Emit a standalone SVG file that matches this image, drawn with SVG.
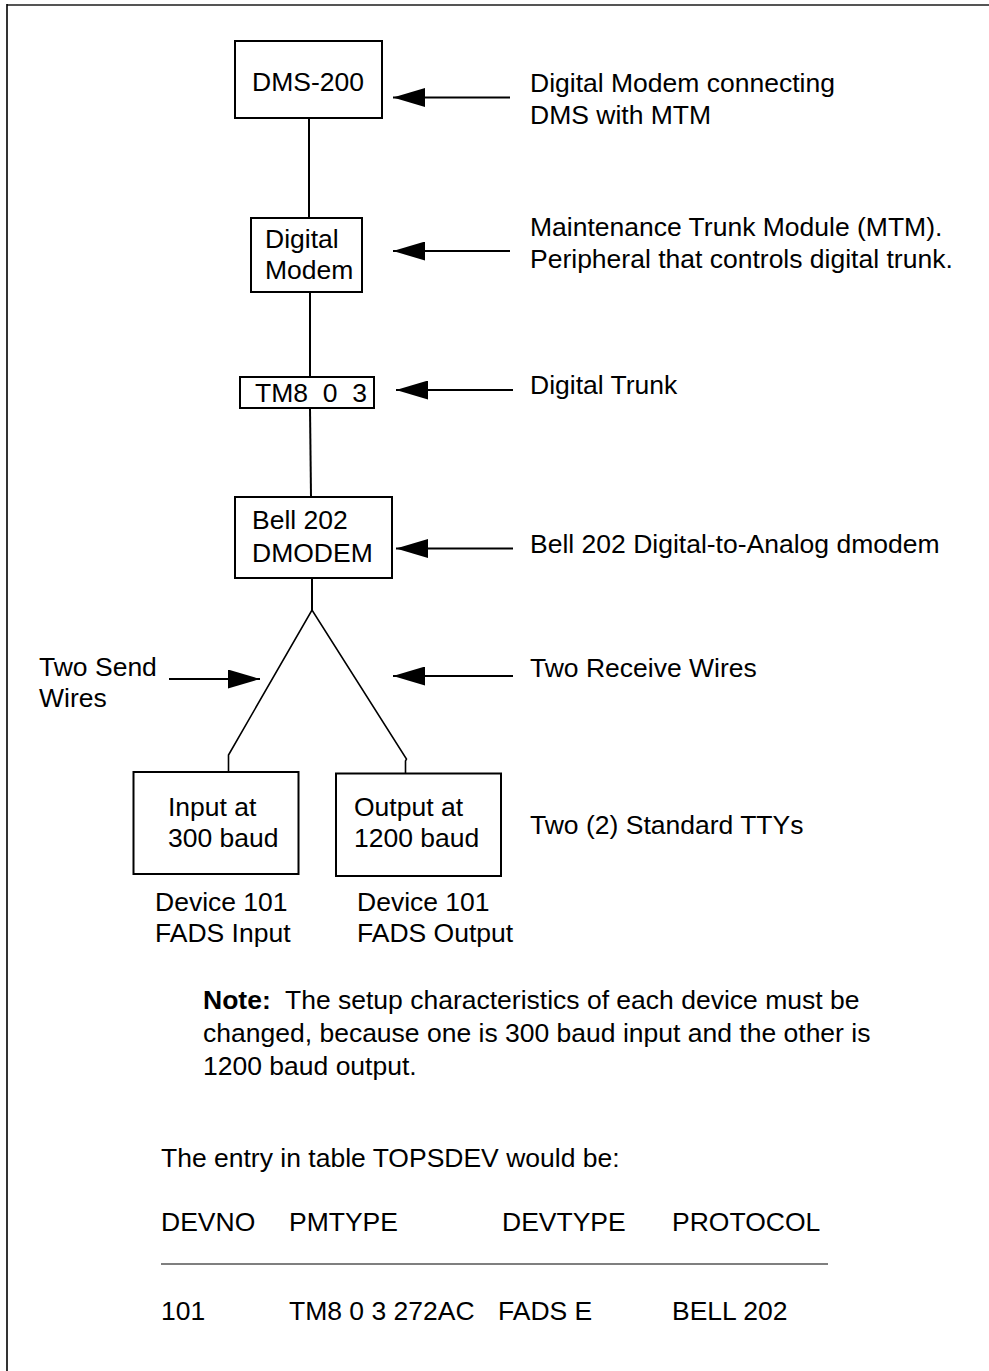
<svg xmlns="http://www.w3.org/2000/svg" width="989" height="1371" viewBox="0 0 989 1371">
<style>
text{font-family:"Liberation Sans",Arial,Helvetica,sans-serif;font-size:26.5px;fill:#000;white-space:pre}
.box{fill:#fff;stroke:#000;stroke-width:2}
.wire{fill:none;stroke:#000;stroke-width:2}
.thin{fill:none;stroke:#000;stroke-width:1.6}
.arr{fill:none;stroke:#000;stroke-width:2;marker-end:url(#ah)}
</style>
<defs>
<marker id="ah" viewBox="0 0 32 19" refX="32" refY="9.5" markerWidth="32" markerHeight="19" markerUnits="userSpaceOnUse" orient="auto">
<path d="M0,0 L32,9.5 L0,19 z" fill="#000"/>
</marker>
</defs>
<rect width="989" height="1371" fill="#fff"/>
<g id="frame">
<line x1="7" y1="5" x2="989" y2="5" stroke="#555" stroke-width="2"/>
<line x1="7" y1="4" x2="7" y2="1371" stroke="#000" stroke-width="1.6"/>
</g>
<g id="connectors">
<line class="wire" x1="309" y1="118" x2="309" y2="218"/>
<line class="wire" x1="310" y1="292" x2="310" y2="377"/>
<line class="wire" x1="310" y1="408" x2="311" y2="497"/>
<line class="wire" x1="312" y1="578" x2="312" y2="610"/>
<polyline class="thin" points="228.5,772 228.5,755 312,610 406.5,759 405.5,761 405.5,773.5"/>
<line class="arr" x1="510" y1="97.5" x2="393" y2="97.5"/>
<line class="arr" x1="510" y1="251" x2="393" y2="251"/>
<line class="arr" x1="513" y1="390" x2="396" y2="390"/>
<line class="arr" x1="513" y1="548.5" x2="396" y2="548.5"/>
<line class="arr" x1="513" y1="676" x2="393" y2="676"/>
<line class="arr" x1="169" y1="679" x2="260" y2="679"/>
</g>
<g id="dms200">
<rect class="box" x="235" y="41" width="147" height="77"/>
<text x="252" y="91">DMS-200</text>
</g>
<g id="digitalModem">
<rect class="box" x="251" y="218" width="111" height="74"/>
<text x="265" y="248">Digital</text>
<text x="265" y="279">Modem</text>
</g>
<g id="tm8">
<rect class="box" x="240" y="377" width="134" height="31"/>
<text x="255" y="401.5">TM8  0  3</text>
</g>
<g id="bell202">
<rect class="box" x="235" y="497" width="157" height="81"/>
<text x="252" y="529">Bell 202</text>
<text x="252" y="562">DMODEM</text>
</g>
<g id="ttyInput">
<rect class="box" x="133.5" y="772" width="165" height="102"/>
<text x="168" y="816">Input at</text>
<text x="168" y="847">300 baud</text>
</g>
<g id="ttyOutput">
<rect class="box" x="336" y="773.5" width="165" height="102.5"/>
<text x="354" y="816">Output at</text>
<text x="354" y="847">1200 baud</text>
</g>
<g id="labels">
<text x="530" y="92">Digital Modem connecting</text>
<text x="530" y="124">DMS with MTM</text>
<text x="530" y="236">Maintenance Trunk Module (MTM).</text>
<text x="530" y="268">Peripheral that controls digital trunk.</text>
<text x="530" y="394">Digital Trunk</text>
<text x="530" y="553">Bell 202 Digital-to-Analog dmodem</text>
<text x="39" y="676">Two Send</text>
<text x="39" y="707">Wires</text>
<text x="530" y="677">Two Receive Wires</text>
<text x="530" y="834">Two (2) Standard TTYs</text>
<text x="155" y="911">Device 101</text>
<text x="155" y="942">FADS Input</text>
<text x="357" y="911">Device 101</text>
<text x="357" y="942">FADS Output</text>
</g>
<g id="note">
<text x="203" y="1009"><tspan font-weight="bold">Note:</tspan>  The setup characteristics of each device must be</text>
<text x="203" y="1042">changed, because one is 300 baud input and the other is</text>
<text x="203" y="1075">1200 baud output.</text>
</g>
<g id="table">
<text x="161" y="1167">The entry in table TOPSDEV would be:</text>
<text x="161" y="1231">DEVNO</text>
<text x="289" y="1231">PMTYPE</text>
<text x="502" y="1231">DEVTYPE</text>
<text x="672" y="1231">PROTOCOL</text>
<line x1="161" y1="1264" x2="828" y2="1264" stroke="#000" stroke-width="1.2"/>
<text x="161" y="1320">101</text>
<text x="289" y="1320">TM8 0 3 272AC</text>
<text x="498" y="1320">FADS E</text>
<text x="672" y="1320">BELL 202</text>
</g>
</svg>
